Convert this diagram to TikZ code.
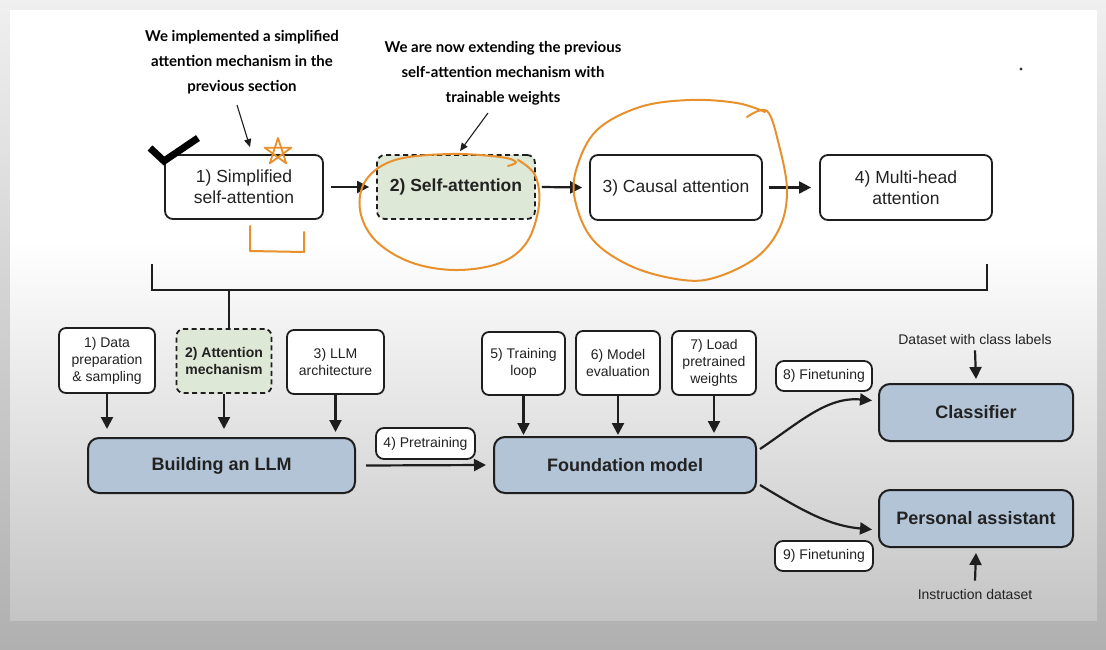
\documentclass[tikz,border=0pt]{standalone}
\usepackage{fontspec}
\setmainfont{Liberation Sans}
\newfontfamily\notefont{Lato}
\usetikzlibrary{arrows.meta}
\definecolor{lineC}{HTML}{1E1E1E}
\definecolor{blueC}{HTML}{B3C4D7}
\definecolor{greenC}{HTML}{DEE8D6}
\definecolor{orangeC}{HTML}{E8902C}
\definecolor{textC}{HTML}{222222}
\tikzset{
  box/.style={draw=lineC, line width=1.8pt, rounded corners=8pt, fill=white, align=center,
    text=textC, inner sep=0pt, font=\fontsize{17.5}{21}\selectfont},
  smallbox/.style={box, rounded corners=7pt, font=\fontsize{14}{17}\selectfont},
  greenbox/.style={fill=greenC, dash pattern=on 5pt off 3.5pt},
  bluebox/.style={box, fill=blueC, rounded corners=11pt, line width=2pt, font=\bfseries\fontsize{18}{22}\selectfont},
  tag/.style={box, rounded corners=8pt, font=\fontsize{14}{17}\selectfont},
  plain/.style={text=textC, font=\fontsize{14}{17}\selectfont, inner sep=0pt},
  note/.style={text=black, align=center, inner sep=0pt, font=\notefont\bfseries\fontsize{15}{25}\selectfont},
  arr/.style={draw=lineC, line width=2.2pt, -{Triangle[length=12pt,width=12pt]}},
  thinarr/.style={draw=lineC, line width=1.1pt, -{Triangle[length=8pt,width=7pt]}},
  hand/.style={draw=orangeC, line width=2pt, line cap=round, line join=round},
}
\begin{document}
\begin{tikzpicture}[x=1pt,y=-1pt]
% background
\useasboundingbox (0,0) rectangle (1106,650);
\shade[top color=black!6, bottom color=black!31] (0,0) rectangle (1106,650);
\fill[white] (10,10) rectangle (1097,620);
\shade[top color=white, bottom color=black!23] (10,240) rectangle (1097,620);
\fill[black!80] (1021,69) circle (1.6);

% notes
\node[note] (note1) at (242,62) {We implemented a simplified\\attention mechanism in the\\previous section};
\node[note] (note2) at (503,73) {We are now extending the previous\\self-attention mechanism with\\trainable weights};

% top row
\node[box, minimum width=158, minimum height=64] (s1) at (244,187) {1) Simplified\\self-attention};
\node[box, greenbox, minimum width=158, minimum height=64, font=\bfseries\fontsize{17.5}{21}\selectfont] (s2) at (456,187) {2) Self-attention};
\node[box, minimum width=172, minimum height=65] (s3) at (676,187.5) {3) Causal attention};
\node[box, minimum width=172, minimum height=65] (s4) at (906,187.5) {4) Multi-head\\attention};

\draw[arr] ([xshift=7pt]s1.east) -- ([xshift=-7pt]s2.west);
\draw[arr] ([xshift=6pt]s2.east) -- ([xshift=-7pt]s3.west);
\draw[arr] ([xshift=6pt]s3.east) -- ([xshift=-8pt]s4.west);

\coordinate (n1a) at (237,105);
\coordinate (n2a) at (488,113);
\draw[thinarr] (n1a) -- ([xshift=6pt,yshift=7pt]s1.north);
\draw[thinarr] (n2a) -- ([xshift=4pt,yshift=3pt]s2.north);

% bracket
\coordinate (bl) at (152,264);
\coordinate (br) at (987,264);
\coordinate (bj) at (229,290);
\draw[draw=lineC, line width=2pt] (bl) -- (bl |- bj) -- (br |- bj) -- (br);

% bottom row inputs
\node[smallbox, minimum width=96, minimum height=65] (d1) at (107,360.5) {1) Data\\preparation\\\& sampling};
\node[smallbox, greenbox, minimum width=95, minimum height=64, font=\bfseries\fontsize{14}{17}\selectfont] (d2) at (224,361) {2) Attention\\mechanism};
\node[smallbox, minimum width=97, minimum height=64] (d3) at (335.5,362) {3) LLM\\architecture};
\draw[draw=lineC, line width=2pt] (bj) -- (bj |- d2.north);

\node[bluebox, minimum width=267, minimum height=55] (build) at (221.5,465.5) {Building an LLM};
\draw[arr] (d1.south) -- ([yshift=8pt]d1.south |- build.north);
\draw[arr] (d2.south) -- ([yshift=8pt]d2.south |- build.north);
\draw[arr] (d3.south) -- ([yshift=5pt]d3.south |- build.north);

\node[tag, minimum width=99, minimum height=31] (pre) at (425.5,443.5) {4) Pretraining};
\node[bluebox, minimum width=262, minimum height=56] (found) at (625,465) {Foundation model};
\draw[arr] ([xshift=10pt]build.east) -- ([xshift=-7pt]found.west);

\node[smallbox, minimum width=83, minimum height=63] (t5) at (523.5,363.5) {5) Training\\loop};
\node[smallbox, minimum width=84, minimum height=64] (t6) at (618,363) {6) Model\\evaluation};
\node[smallbox, minimum width=84, minimum height=64] (t7) at (714,363) {7) Load\\pretrained\\weights};
\draw[arr] (t5.south) -- ([yshift=1pt]t5.south |- found.north);
\draw[arr] (t6.south) -- ([yshift=1pt]t6.south |- found.north);
\draw[arr] (t7.south) -- ([yshift=3pt]t7.south |- found.north);

% finetuning
\node[tag, minimum width=96, minimum height=30] (ft8) at (824,376) {8) Finetuning};
\node[tag, minimum width=98, minimum height=30] (ft9) at (824,556) {9) Finetuning};
\node[bluebox, minimum width=194, minimum height=57] (cls) at (976,412.5) {Classifier};
\node[bluebox, minimum width=194, minimum height=57] (pa) at (976,518.5) {Personal assistant};
\draw[arr] ([xshift=3pt,yshift=16pt]found.east) .. controls +(40,-27) and +(-45,-4) .. ([xshift=-6pt,yshift=12pt]cls.west);
\draw[arr] ([xshift=3pt,yshift=-20pt]found.east) .. controls +(40,24) and +(-45,-4) .. ([xshift=-6pt,yshift=-11pt]pa.west);

\node[plain] (ds) at (975,339) {Dataset with class labels};
\node[plain] (ins) at (975,594) {Instruction dataset};
\draw[arr] ([yshift=-6pt]ds.south) -- ([yshift=4pt]cls.north);
\draw[arr] ([yshift=8pt]ins.north) -- ([yshift=-5pt]pa.south);

% hand-drawn marks
\draw[black, line width=7pt] (150,148) -- (164,161) -- (198,138);
\draw[hand, line width=1.8pt] (278,138) -- (269.8,163.3) -- (291.3,147.7) -- (264.7,147.7) -- (286.2,163.3) -- cycle;
\draw[hand] (250,226) -- (250,251) -- (304,252) -- (304,232);
\draw[hand] plot[smooth, tension=0.6] coordinates {(508,166) (516,162) (500,157) (450,154) (395,160) (366,180) (360,210) (375,240) (410,262) (455,270) (500,263) (527,242) (539,205) (535,175) (518,160)};
\draw[hand] plot[smooth, tension=0.6] coordinates {(747,117) (767,111) (779,145) (787,190) (780,227) (757,257) (717,277) (683,280) (633,267) (593,240) (575,200) (577,167) (597,130) (640,107) (690,100) (737,103) (765,112)};
\end{tikzpicture}
\end{document}
